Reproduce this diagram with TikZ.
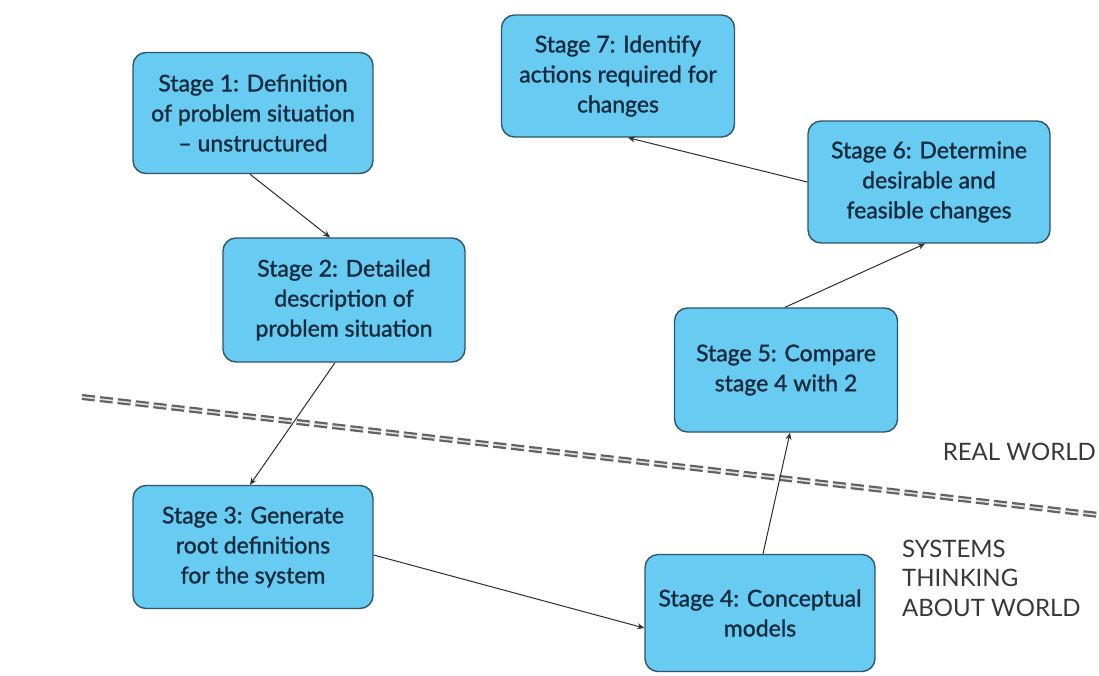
\documentclass[tikz,border=0pt]{standalone}
\usepackage{fontspec}
\setmainfont{Lato}
\newfontface\stagefont{Lato}[FakeBold=1.3, Ligatures=TeX]
\usetikzlibrary{arrows.meta}
\definecolor{boxfill}{RGB}{104,204,242}
\definecolor{boxline}{RGB}{48,84,108}
\definecolor{boxtext}{RGB}{22,44,62}
\definecolor{linkcol}{RGB}{45,45,50}
\begin{document}
\begin{tikzpicture}[x=1pt,y=-1pt,
  stagebox/.style={draw=boxline, line width=1.4pt, fill=boxfill, rounded corners=13pt,
    text=boxtext, align=center, font=\stagefont\fontsize{23}{30}\selectfont, inner sep=0pt},
  link/.style={draw=linkcol, line width=1pt, -{Stealth[length=7pt,width=6pt]}},
  divider/.style={draw=black!62, line width=2.2pt, double=black!12, double distance=1.6pt,
    dash pattern=on 13pt off 5pt},
  worldlabel/.style={text=black!78, font=\fontsize{24}{29.5}\selectfont, inner sep=0pt}]
\useasboundingbox (0,0) rectangle (1099,675);
\fill[white] (0,0) rectangle (1099,675);

% boundary between the real world and systems thinking
\coordinate (divL) at (82,397);
\coordinate (divR) at (1099,515);
\draw[divider] (divL) -- (divR);

% stages
\node[stagebox, minimum width=240pt, minimum height=121pt] (s1) at (253,113)
  {Stage 1: Definition\\of problem situation\\– unstructured};
\node[stagebox, minimum width=242pt, minimum height=124pt] (s2) at (344,300)
  {Stage 2: Detailed\\description of\\problem situation};
\node[stagebox, minimum width=240pt, minimum height=123pt] (s3) at (253,547)
  {Stage 3: Generate\\root definitions\\for the system};
\node[stagebox, minimum width=230pt, minimum height=117pt] (s4) at (760,613)
  {Stage 4: Conceptual\\models};
\node[stagebox, minimum width=223pt, minimum height=124pt] (s5) at (786,370)
  {Stage 5: Compare\\stage 4 with 2};
\node[stagebox, minimum width=242pt, minimum height=122pt] (s6) at (929,182)
  {Stage 6: Determine\\desirable and\\feasible changes};
\node[stagebox, minimum width=233pt, minimum height=122pt] (s7) at (618,76)
  {Stage 7: Identify\\actions required for\\changes};

% region labels
\node[worldlabel, anchor=east] (rw) at (1096,452) {REAL WORLD};
\node[worldlabel, anchor=west, align=left] (st) at (902,578)
  {SYSTEMS\\THINKING\\ABOUT WORLD};

% flow between stages
\draw[link] ([xshift=-3pt]s1.south) -- ([xshift=-14pt]s2.north);
\draw[link] ([xshift=-9pt]s2.south) -- ([xshift=-3pt]s3.north);
\draw[link] ([yshift=-8pt]s3.east) -- ([yshift=-15pt]s4.west);
\draw[link] ([xshift=3pt]s4.north) -- ([xshift=4pt]s5.south);
\draw[link] ([xshift=-1pt]s5.north) -- ([xshift=-4pt]s6.south);
\draw[link] (s6.west) -- ([xshift=10pt]s7.south);
\end{tikzpicture}
\end{document}
